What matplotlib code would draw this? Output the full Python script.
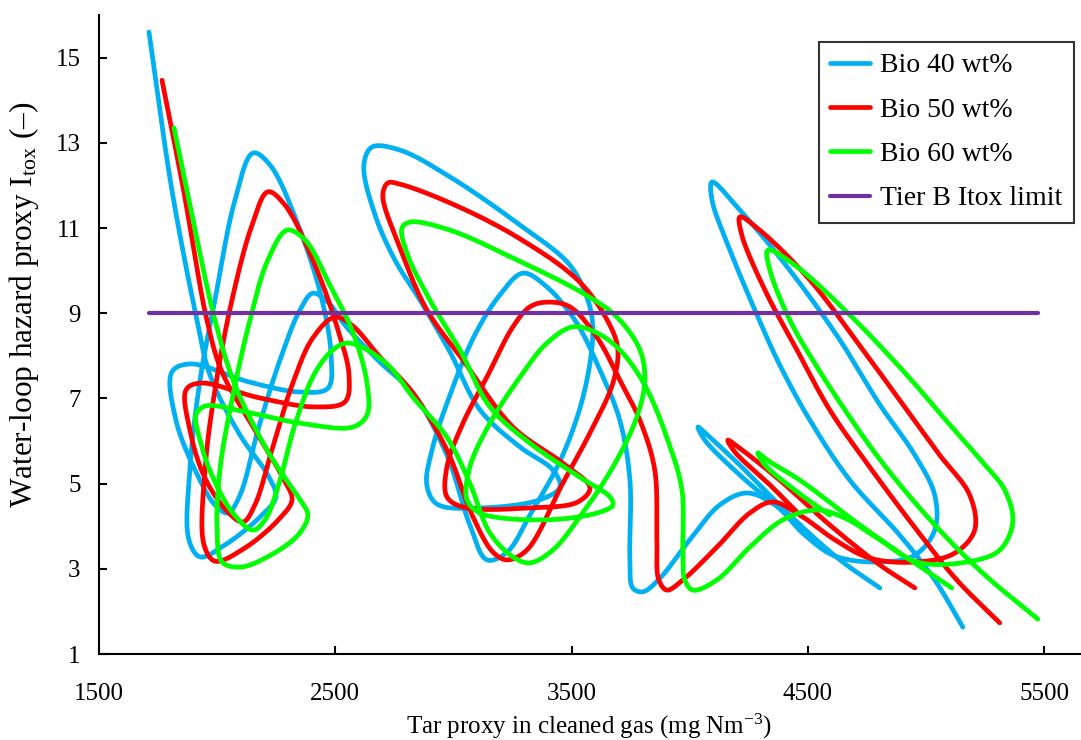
import numpy as np
import matplotlib
matplotlib.use("Agg")
import matplotlib.pyplot as plt

# ---------------- data ----------------
bio40_x = [1713, 1810, 1916, 1971, 2098, 2216, 2250, 2191, 2034, 1929, 1882, 1886, 1929, 1992, 2077,
           2153, 2225, 2352, 2445, 2483, 2470, 2352, 2140, 1886, 1810, 1827, 1908, 1992, 2047, 2098,
           2174, 2267, 2352, 2406, 2470, 2542, 2690, 2829, 2973, 3070, 3142, 3227, 3324, 3463, 3556,
           3590, 3569, 3493, 3282, 2986, 2774, 2656, 2622, 2669, 2753, 2859, 2986, 3113, 3282, 3421,
           3451, 3366, 3113, 2931, 2888, 2910, 2986, 3091, 3197, 3294, 3387, 3514, 3620, 3704, 3747,
           3747, 3759, 3802, 3874, 4000, 4127, 4241, 4360, 4487, 4614, 4804, 4952, 5036, 5036, 4952,
           4804, 4635, 4423, 4212, 4094, 4094, 4170, 4275, 4381, 4508, 4677, 4888, 5036, 5155]
bio40_y = [15.60, 11.89, 8.84, 7.55, 6.14, 5.20, 4.69, 4.26, 3.56, 3.28, 3.68, 5.32, 7.43, 9.31, 11.66,
           12.76, 12.48, 10.95, 9.31, 8.02, 7.24, 7.15, 7.38, 7.81, 7.62, 6.49, 5.32, 4.50, 4.31, 4.73,
           6.26, 7.90, 9.08, 9.47, 9.26, 8.72, 7.85, 7.13, 5.67, 4.03, 3.21, 3.39, 4.26, 5.67, 7.20,
           8.61, 9.31, 10.13, 11.07, 12.20, 12.83, 12.90, 12.48, 11.31, 10.25, 9.31, 8.09, 6.73, 5.86, 5.32,
           4.92, 4.62, 4.43, 4.52, 4.97, 5.79, 7.08, 8.49, 9.43, 9.94, 9.66, 8.84, 7.67, 6.49, 5.08,
           3.21, 2.55, 2.46, 2.78, 3.68, 4.50, 4.78, 4.50, 3.79, 3.30, 3.16, 3.32, 3.91, 4.73, 5.67,
           6.85, 8.37, 10.01, 11.42, 12.08, 11.66, 10.48, 9.08, 7.78, 6.49, 5.08, 3.79, 2.74, 1.63]
bio40_tail_x = [4804, 4635, 4423, 4233, 4085, 4035, 4064, 4212, 4360]
bio40_tail_y = [2.55, 3.21, 4.26, 5.32, 6.09, 6.33, 6.02, 5.20, 4.50]

bio50_x = [1768, 1857, 1958, 2022, 2161, 2280, 2318, 2267, 2119, 1992, 1946, 1950, 1992, 2064, 2149,
           2216, 2288, 2415, 2512, 2559, 2542, 2415, 2182, 1929, 1870, 1886, 1950, 2047, 2111, 2161,
           2233, 2318, 2406, 2499, 2571, 2690, 2829, 2973, 3083, 3168, 3227, 3311, 3463, 3578, 3675,
           3696, 3662, 3535, 3269, 2986, 2774, 2724, 2702, 2774, 2888, 3041, 3252, 3463, 3578, 3527,
           3324, 3041, 2973, 2973, 3041, 3142, 3252, 3324, 3396, 3493, 3607, 3704, 3789, 3852, 3861,
           3869, 3903, 3971, 4115, 4254, 4351, 4466, 4614, 4762, 4960, 5121, 5205, 5184, 5057, 4888,
           4732, 4508, 4296, 4212, 4220, 4318, 4453, 4592, 4749, 4960, 5129, 5311]
bio50_y = [14.47, 11.96, 8.84, 7.62, 6.26, 5.13, 4.62, 4.19, 3.49, 3.18, 3.56, 5.32, 7.20, 9.31, 11.07,
           11.85, 11.54, 10.13, 8.61, 7.55, 6.92, 6.80, 7.01, 7.36, 7.20, 6.26, 5.13, 4.33, 4.10, 4.50,
           5.79, 7.31, 8.42, 8.91, 8.72, 7.97, 7.13, 5.79, 4.22, 3.39, 3.21, 3.44, 5.01, 6.19, 7.36,
           8.14, 8.72, 9.73, 10.79, 11.59, 12.03, 12.06, 11.77, 10.55, 9.08, 7.90, 6.33, 5.48, 4.90, 4.57,
           4.43, 4.45, 4.69, 5.39, 6.42, 7.50, 8.68, 9.15, 9.26, 9.15, 8.44, 7.43, 6.49, 5.32, 3.68,
           2.74, 2.50, 2.74, 3.51, 4.31, 4.57, 4.26, 3.68, 3.25, 3.16, 3.37, 3.91, 4.73, 5.67, 6.96,
           8.14, 9.78, 10.95, 11.26, 10.84, 9.54, 8.14, 6.73, 5.48, 3.91, 2.74, 1.73]
bio50_tail_x = [4952, 4804, 4592, 4381, 4233, 4161, 4191, 4339, 4466]
bio50_tail_y = [2.55, 3.09, 4.03, 5.08, 5.74, 6.02, 5.74, 4.97, 4.26]

bio60_x = [1819, 1908, 1992, 2077, 2225, 2352, 2385, 2343, 2204, 2098, 2022, 2001, 2013, 2064, 2140,
           2216, 2297, 2373, 2478, 2576, 2635, 2635, 2576, 2352, 2140, 1950, 1912, 1929, 1979, 2068,
           2153, 2204, 2267, 2330, 2415, 2491, 2550, 2635, 2732, 2829, 2973, 3070, 3155, 3252, 3324,
           3421, 3535, 3675, 3776, 3810, 3789, 3692, 3548, 3269, 2986, 2817, 2783, 2804, 2901, 3028,
           3155, 3324, 3535, 3662, 3675, 3620, 3396, 3113, 3058, 3070, 3155, 3282, 3396, 3506, 3607,
           3704, 3810, 3907, 3967, 3971, 3979, 4013, 4115, 4254, 4394, 4537, 4656, 4804, 4960, 5172,
           5311, 5366, 5332, 5248, 5100, 4918, 4677, 4444, 4330, 4339, 4423, 4520, 4656, 4816, 5028,
           5239, 5472]
bio60_y = [13.35, 10.95, 8.84, 7.31, 5.67, 4.62, 4.26, 3.79, 3.25, 3.04, 3.16, 3.91, 5.32, 6.96, 8.84,
           10.25, 10.95, 10.72, 9.66, 8.54, 7.36, 6.61, 6.33, 6.42, 6.66, 6.82, 6.61, 6.02, 5.20, 4.31,
           3.91, 4.15, 5.08, 6.38, 7.60, 8.14, 8.30, 8.14, 7.74, 7.03, 6.09, 5.01, 3.84, 3.28, 3.14,
           3.44, 4.22, 5.39, 6.56, 7.43, 8.14, 8.91, 9.47, 10.25, 10.95, 11.14, 11.00, 10.41, 9.31, 8.14,
           6.80, 5.95, 5.15, 4.69, 4.50, 4.33, 4.15, 4.31, 4.62, 5.39, 6.42, 7.50, 8.30, 8.68, 8.54,
           8.14, 7.31, 6.02, 4.85, 3.44, 2.74, 2.50, 2.74, 3.51, 4.15, 4.38, 4.19, 3.68, 3.16, 3.16,
           3.44, 4.10, 4.85, 5.44, 6.38, 7.55, 8.96, 10.13, 10.48, 10.01, 8.84, 7.90, 6.73, 5.48, 4.08,
           2.90, 1.82]
bio60_tail_x = [5108, 4931, 4719, 4466, 4339, 4288, 4318, 4444, 4592]
bio60_tail_y = [2.55, 3.21, 4.03, 5.08, 5.51, 5.72, 5.44, 4.85, 4.26]

itox_limit = 9.0

series_labels = ["Bio 40 wt%", "Bio 50 wt%", "Bio 60 wt%"]
limit_label = "Tier B Itox limit"
x_ticks = [1500, 2500, 3500, 4500, 5500]
y_ticks = [1, 3, 5, 7, 9, 11, 13, 15]

# ---------------- styling ----------------
plt.rcParams["font.family"] = ["Liberation Serif", "DejaVu Serif"]
plt.rcParams["mathtext.fontset"] = "custom"
plt.rcParams["mathtext.rm"] = "Liberation Serif"
plt.rcParams["mathtext.it"] = "Liberation Serif:italic"

colors = ["#00B0F0", "#FF0000", "#00FF00"]
limit_color = "#7030A0"

XMIN, XMAX, YMIN, YMAX = 1500, 5650, 1, 16


def smooth_path(x, y, ax_w, ax_h, n=30, alpha=0.5):
    """Centripetal Catmull-Rom spline through the points (like a smoothed scatter line)."""
    sx = ax_w / (XMAX - XMIN)
    sy = ax_h / (YMAX - YMIN)
    P = np.column_stack([np.asarray(x, float) * sx, np.asarray(y, float) * sy])
    P = np.vstack([2 * P[0] - P[1], P, 2 * P[-1] - P[-2]])
    out = []
    for i in range(len(P) - 3):
        p0, p1, p2, p3 = P[i], P[i + 1], P[i + 2], P[i + 3]
        t0 = 0.0
        t1 = t0 + max(np.linalg.norm(p1 - p0), 1e-6) ** alpha
        t2 = t1 + max(np.linalg.norm(p2 - p1), 1e-6) ** alpha
        t3 = t2 + max(np.linalg.norm(p3 - p2), 1e-6) ** alpha
        t = np.linspace(t1, t2, n, endpoint=False)[:, None]
        a1 = (t1 - t) / (t1 - t0) * p0 + (t - t0) / (t1 - t0) * p1
        a2 = (t2 - t) / (t2 - t1) * p1 + (t - t1) / (t2 - t1) * p2
        a3 = (t3 - t) / (t3 - t2) * p2 + (t - t2) / (t3 - t2) * p3
        b1 = (t2 - t) / (t2 - t0) * a1 + (t - t0) / (t2 - t0) * a2
        b2 = (t3 - t) / (t3 - t1) * a2 + (t - t1) / (t3 - t1) * a3
        c = (t2 - t) / (t2 - t1) * b1 + (t - t1) / (t2 - t1) * b2
        out.append(c)
    out.append(P[-2][None, :])
    C = np.vstack(out)
    return C[:, 0] / sx, C[:, 1] / sy


fig = plt.figure(figsize=(10.81, 7.40), dpi=100)
ax = fig.add_axes([0.0912, 0.1162, 0.9078, 0.8635])
ax.set_xlim(XMIN, XMAX)
ax.set_ylim(YMIN, YMAX)

bbox = ax.get_window_extent()
aw, ah = bbox.width, bbox.height

series = [
    (bio40_x, bio40_y, bio40_tail_x, bio40_tail_y),
    (bio50_x, bio50_y, bio50_tail_x, bio50_tail_y),
    (bio60_x, bio60_y, bio60_tail_x, bio60_tail_y),
]

lw = 3.4
for (mx, my, tx, ty), c, lab in zip(series, colors, series_labels):
    sxp, syp = smooth_path(mx, my, aw, ah)
    ax.plot(sxp, syp, color=c, lw=lw, label=lab, solid_capstyle="round",
            solid_joinstyle="round")
    sxp, syp = smooth_path(tx, ty, aw, ah)
    ax.plot(sxp, syp, color=c, lw=lw, solid_capstyle="round", solid_joinstyle="round")

all_x = bio40_x + bio50_x + bio60_x
ax.plot([min(all_x), max(all_x)], [itox_limit, itox_limit], color=limit_color, lw=3.0,
        label=limit_label, solid_capstyle="round", zorder=5)

for side in ["top", "right"]:
    ax.spines[side].set_visible(False)
for side in ["left", "bottom"]:
    ax.spines[side].set_linewidth(1.5)
    ax.spines[side].set_color("black")

ax.set_xticks(x_ticks)
ax.set_yticks(y_ticks)
ax.tick_params(direction="in", length=6, width=1.5, labelsize=18)
ax.tick_params(axis="x", pad=21)
ax.tick_params(axis="y", pad=13)

ax.set_xlabel(r"Tar proxy in cleaned gas (mg Nm$^{-3}$)", fontsize=18, labelpad=5)
ax.set_ylabel(r"Water-loop hazard proxy I$_{\mathrm{tox}}$ (–)", fontsize=22.5)
ax.yaxis.set_label_coords(-0.059, 0.546)

leg = ax.legend(loc="upper right", bbox_to_anchor=(0.9935, 0.958), fontsize=20,
                frameon=True, fancybox=False, edgecolor="black", handlelength=1.45,
                labelspacing=0.68, borderpad=0.4, handletextpad=0.35, borderaxespad=0.0)
leg.get_frame().set_linewidth(1.5)

fig.savefig("out.png", dpi=100)
